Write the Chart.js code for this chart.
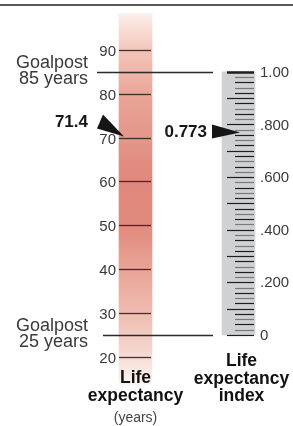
<!DOCTYPE html>
<html>
<head>
<meta charset="utf-8">
<script src="https://cdn.jsdelivr.net/npm/chart.js@4"></script>
<style>
  html, body { margin: 0; padding: 0; background: #fff; }
  #wrap { width: 293px; height: 426px; }
</style>
</head>
<body>
<div id="wrap"><canvas id="chart" width="293" height="426"></canvas></div>
<script>
// =====================
// DATA
// =====================
const categories = ['Life expectancy', 'Life expectancy index'];
const yearRange = [13.6, 98.4];          // span of the shaded years bar
const indexRange = [0, 1];               // span of the grey index bar
const yearTicks = [20, 30, 40, 50, 60, 70, 80, 90];
const indexTicks = [0, 0.2, 0.4, 0.6, 0.8, 1];
const indexTickLabels = ['0', '.200', '.400', '.600', '.800', '1.00'];
const indexMinorStep = 0.02;
const goalpostYears = [25, 85];
const goalpostLabels = [['Goalpost', '25 years'], ['Goalpost', '85 years']];
const lifeExpectancy = 71.4;
const lifeExpectancyIndex = 0.773;

const FONT = '"Liberation Sans", Arial, Helvetica, sans-serif';

// index scale is tied to the goalposts: 25 -> 0, 85 -> 1
const span = goalpostYears[1] - goalpostYears[0];
const indexMin = (yearRange[0] - goalpostYears[0]) / span;
const indexMax = (yearRange[1] - goalpostYears[0]) / span;

function redGradient(context) {
    const area = context.chart.chartArea;
    if (!area) return '#e0877a';
    const g = context.chart.ctx.createLinearGradient(0, area.top, 0, area.bottom);
    g.addColorStop(0, '#fcf0ec');
    g.addColorStop(0.1, '#f2c5b9');
    g.addColorStop(0.22, '#e9a596');
    g.addColorStop(0.34, '#e3968a');
    g.addColorStop(0.45, '#e0887b');
    g.addColorStop(0.57, '#e08a7d');
    g.addColorStop(0.69, '#e8a596');
    g.addColorStop(0.81, '#efbcb0');
    g.addColorStop(0.92, '#f6dad2');
    g.addColorStop(1, '#fef6f4');
    return g;
}

// =====================
// ДЕКОР: шкалы, стойки, стрелки, подписи
// =====================
const overlay = {
    id: 'overlay',
    afterDatasetsDraw(chart) {
        const ctx = chart.ctx;
        const xs = chart.scales.x, ys = chart.scales.y, y2 = chart.scales.y2;
        const red = chart.getDatasetMeta(0).data[0];
        const grey = chart.getDatasetMeta(1).data[1];
        const redL = red.x - red.width / 2, redR = red.x + red.width / 2;
        const greyL = grey.x - grey.width / 2, greyR = grey.x + grey.width / 2;

        ctx.save();

        // years ticks and labels
        ctx.font = '15px ' + FONT;
        ctx.fillStyle = '#3a3a3a';
        ctx.textAlign = 'right';
        ctx.textBaseline = 'middle';
        ctx.lineWidth = 1.3;
        yearTicks.forEach(v => {
            const py = Math.round(ys.getPixelForValue(v)) + 0.5;
            ctx.strokeStyle = 'rgba(45,35,33,0.9)';
            ctx.beginPath();
            ctx.moveTo(redL, py);
            ctx.lineTo(redR - 1, py);
            ctx.stroke();
            ctx.fillText(String(v), redL - 3, py + 1);
        });

        // index minor ticks
        const n = Math.round((indexRange[1] - indexRange[0]) / indexMinorStep);
        for (let i = 0; i <= n; i++) {
            const v = indexRange[0] + i * indexMinorStep;
            const py = Math.round(y2.getPixelForValue(v)) + 0.5;
            const major = i % 5 === 0;
            ctx.strokeStyle = major || i % 2 === 0 ? '#1e1e1e' : '#7a7a7a';
            ctx.lineWidth = i === n ? 2.5 : 1.2;
            ctx.beginPath();
            ctx.moveTo(major ? greyL + 5 : greyL + 13, py);
            ctx.lineTo(greyR - 1, py);
            ctx.stroke();
        }

        // index labels
        ctx.textAlign = 'left';
        indexTicks.forEach((v, i) => {
            const py = y2.getPixelForValue(v);
            ctx.fillText(indexTickLabels[i], greyR + 5, py + 1);
        });

        // goalposts
        const starts = [103, 97];
        ctx.strokeStyle = '#2a2a2a';
        ctx.lineWidth = 1.4;
        ctx.font = '18px ' + FONT;
        ctx.textAlign = 'right';
        ctx.textBaseline = 'alphabetic';
        goalpostYears.forEach((v, i) => {
            const py = Math.round(ys.getPixelForValue(v)) + 0.5;
            ctx.beginPath();
            ctx.moveTo(starts[i], py);
            ctx.lineTo(greyL - 9, py);
            ctx.stroke();
            ctx.fillText(goalpostLabels[i][0], 88, py - 4.5);
            ctx.fillText(goalpostLabels[i][1], 88, py + 11.5);
        });

        // arrows
        ctx.fillStyle = '#161616';
        const pyL = ys.getPixelForValue(lifeExpectancy);
        ctx.beginPath();
        ctx.moveTo(redL + 5, pyL + 5);
        ctx.lineTo(redL - 16, pyL - 17);
        ctx.lineTo(redL - 22, pyL - 3);
        ctx.closePath();
        ctx.fill();

        const pyR = y2.getPixelForValue(lifeExpectancyIndex);
        ctx.beginPath();
        ctx.moveTo(greyL + 18, pyR + 1);
        ctx.lineTo(greyL - 10, pyR - 7);
        ctx.lineTo(greyL - 10, pyR + 7);
        ctx.closePath();
        ctx.fill();

        ctx.font = 'bold 17px ' + FONT;
        ctx.textBaseline = 'middle';
        ctx.fillText(String(lifeExpectancy), 88, pyL - 9);
        ctx.fillText(lifeExpectancyIndex.toFixed(3), greyL - 15, pyR + 1);

        // category labels
        ctx.textAlign = 'center';
        ctx.textBaseline = 'alphabetic';
        ctx.fillStyle = '#111';
        ctx.font = 'bold 17.5px ' + FONT;
        const c0 = xs.getPixelForValue(0), c1 = xs.getPixelForValue(1) + 3;
        ctx.fillText('Life', c0, 383);
        ctx.fillText('expectancy', c0, 401);
        ctx.fillText('Life', c1, 366);
        ctx.fillText('expectancy', c1, 384);
        ctx.fillText('index', c1, 401);
        ctx.font = '14px ' + FONT;
        ctx.fillStyle = '#444';
        ctx.fillText('(years)', c0, 422);

        // top rule
        ctx.strokeStyle = '#222';
        ctx.lineWidth = 1.5;
        ctx.beginPath();
        ctx.moveTo(0, 5);
        ctx.lineTo(chart.width, 5);
        ctx.stroke();

        ctx.restore();
    }
};

new Chart(document.getElementById('chart'), {
    type: 'bar',
    data: {
        labels: categories,
        datasets: [
            { data: [yearRange, null], yAxisID: 'y', backgroundColor: redGradient, barThickness: 33, grouped: false },
            { data: [null, indexRange], yAxisID: 'y2', backgroundColor: '#cfd1d3', barThickness: 33, grouped: false }
        ]
    },
    options: {
        responsive: false,
        animation: false,
        events: [],
        layout: { padding: { left: 84, right: 3, top: 13, bottom: 41 } },
        plugins: { legend: { display: false }, tooltip: { enabled: false } },
        scales: {
            x: { type: 'category', display: false, offset: true },
            y: { type: 'linear', display: false, min: yearRange[0], max: yearRange[1] },
            y2: { type: 'linear', display: false, min: indexMin, max: indexMax }
        }
    },
    plugins: [overlay]
});
</script>
</body>
</html>
